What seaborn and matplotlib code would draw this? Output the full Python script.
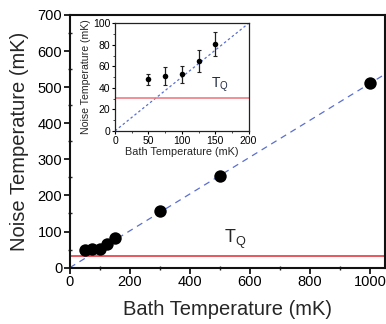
import matplotlib
matplotlib.use("Agg")
import matplotlib.pyplot as plt
import seaborn as sns
import numpy as np
import pandas as pd
from matplotlib.ticker import MultipleLocator

# ---- data ----
bath_main = [50, 75, 100, 125, 150, 300, 500, 1000]
noise_main = [48, 51, 52, 65, 81, 157, 255, 512]
bath_inset = [50, 75, 100, 125, 150]
noise_inset = [48, 51, 52.5, 65, 81]
noise_err = [5, 8, 8, 10, 11]
tq_value = 31
line_slope = 0.51
line_x = [0, 1050]

sns.set_style("ticks")
plt.rcParams['font.family'] = ['Liberation Sans', 'DejaVu Sans']
plt.rcParams['mathtext.default'] = 'regular'

fig = plt.figure(figsize=(3.86, 3.24), dpi=100)
ax = fig.add_axes([0.181, 0.174, 0.816, 0.780])

df = pd.DataFrame({"bath": bath_main, "noise": noise_main})
ax.plot(line_x, [line_slope * v for v in line_x], color="#5a6fd0", lw=0.9,
        dashes=(5, 4), zorder=1)
ax.axhline(tq_value, color="#e8474f", lw=1.3, zorder=1)
sns.scatterplot(data=df, x="bath", y="noise", ax=ax, color="black", s=80,
                edgecolor="black", linewidth=0, zorder=3, legend=False)
ax.set_xlim(0, 1050)
ax.set_ylim(0, 700)
ax.xaxis.set_major_locator(MultipleLocator(200))
ax.xaxis.set_minor_locator(MultipleLocator(100))
ax.yaxis.set_major_locator(MultipleLocator(100))
ax.yaxis.set_minor_locator(MultipleLocator(50))
ax.tick_params(which="major", direction="out", length=4, width=1.2, labelsize=10.5,
               pad=1.5, colors="black")
ax.tick_params(which="minor", direction="inout", length=3, width=1.0)
for sp in ax.spines.values():
    sp.set_linewidth(1.5)
    sp.set_color("#111111")
ax.set_xlabel("Bath Temperature (mK)", fontsize=14.5, labelpad=8)
ax.set_ylabel("Noise Temperature (mK)", fontsize=14.5, labelpad=6)
ax.text(550, 68, "$T_Q$", fontsize=13, ha="center", va="baseline")

# ---- inset ----
ins = fig.add_axes([0.298, 0.596, 0.346, 0.332])
dfi = pd.DataFrame({"bath": bath_inset, "noise": noise_inset})
ins.plot([0, 200], [0, 200 * 0.5], color="#5a6fd0", lw=0.9, dashes=(2, 2), zorder=1)
ins.axhline(tq_value, color="#f07c84", lw=1.2, zorder=1)
ins.errorbar(bath_inset, noise_inset, yerr=noise_err, fmt="none", ecolor="#222222",
             elinewidth=0.9, capsize=1.5, capthick=0.8, zorder=2)
sns.scatterplot(data=dfi, x="bath", y="noise", ax=ins, color="black", s=16,
                linewidth=0, zorder=3, legend=False)
ins.set_xlim(0, 200)
ins.set_ylim(0, 100)
ins.xaxis.set_major_locator(MultipleLocator(50))
ins.xaxis.set_minor_locator(MultipleLocator(25))
ins.yaxis.set_major_locator(MultipleLocator(20))
ins.yaxis.set_minor_locator(MultipleLocator(10))
ins.tick_params(which="major", direction="out", length=2.5, width=0.8, labelsize=7.5,
                pad=1, colors="black")
ins.tick_params(which="minor", direction="out", length=1.5, width=0.6)
for sp in ins.spines.values():
    sp.set_linewidth(0.9)
    sp.set_color("#222222")
ins.set_xlabel("Bath Temperature (mK)", fontsize=7.8, labelpad=1)
ins.set_ylabel("Noise Temperature (mK)", fontsize=7.6, labelpad=1)
ins.text(157, 40, "$T_Q$", fontsize=10, ha="center", va="baseline", color="#1f2a44")

fig.savefig("out.png", dpi=100)
